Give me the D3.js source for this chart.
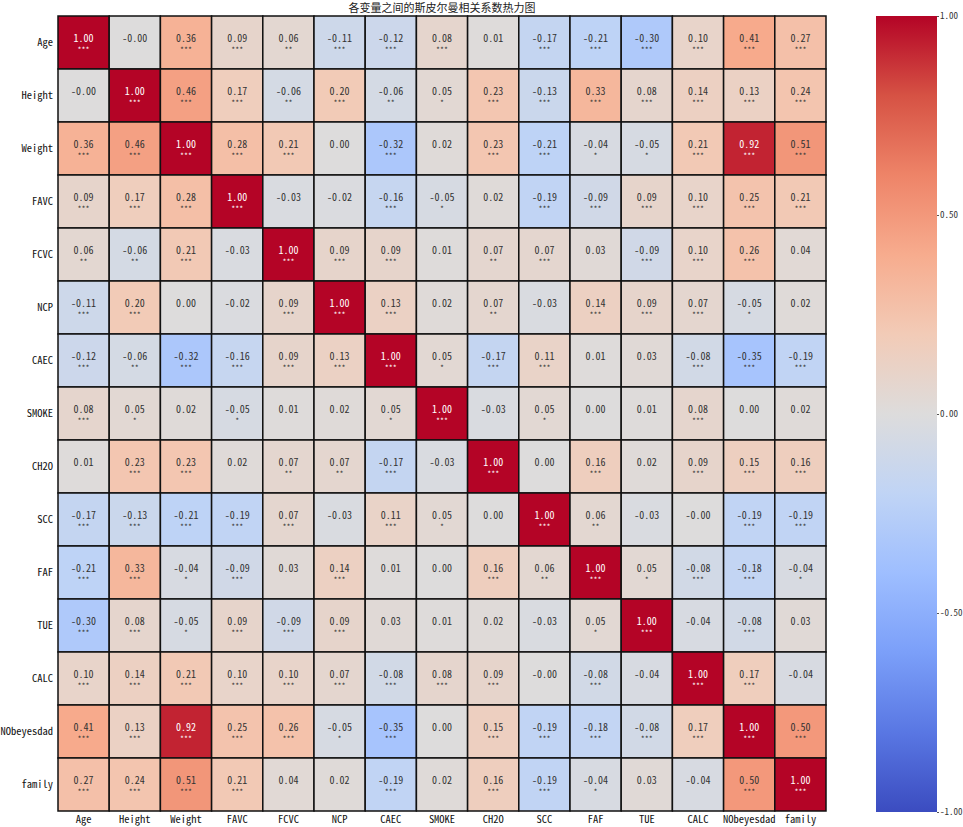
<!DOCTYPE html>
<html>
<head>
<meta charset="utf-8">
<script src="https://cdn.jsdelivr.net/npm/d3@7.9.0/dist/d3.min.js"></script>
<style>
  body { margin: 0; background: #fff; }
  svg { display: block; }
  text { font-family: "Noto Sans Mono CJK SC", "Noto Sans CJK SC", sans-serif; }
</style>
</head>
<body>
<svg id="chart" width="963" height="827"></svg>
<script>
const title = "各变量之间的斯皮尔曼相关系数热力图";

const variables = ["Age", "Height", "Weight", "FAVC", "FCVC", "NCP", "CAEC", "SMOKE",
  "CH2O", "SCC", "FAF", "TUE", "CALC", "NObeyesdad", "family"];

const corr = [
  [ 1.00, -0.00,  0.36,  0.09,  0.06, -0.11, -0.12,  0.08,  0.01, -0.17, -0.21, -0.30,  0.10,  0.41,  0.27],
  [-0.00,  1.00,  0.46,  0.17, -0.06,  0.20, -0.06,  0.05,  0.23, -0.13,  0.33,  0.08,  0.14,  0.13,  0.24],
  [ 0.36,  0.46,  1.00,  0.28,  0.21,  0.00, -0.32,  0.02,  0.23, -0.21, -0.04, -0.05,  0.21,  0.92,  0.51],
  [ 0.09,  0.17,  0.28,  1.00, -0.03, -0.02, -0.16, -0.05,  0.02, -0.19, -0.09,  0.09,  0.10,  0.25,  0.21],
  [ 0.06, -0.06,  0.21, -0.03,  1.00,  0.09,  0.09,  0.01,  0.07,  0.07,  0.03, -0.09,  0.10,  0.26,  0.04],
  [-0.11,  0.20,  0.00, -0.02,  0.09,  1.00,  0.13,  0.02,  0.07, -0.03,  0.14,  0.09,  0.07, -0.05,  0.02],
  [-0.12, -0.06, -0.32, -0.16,  0.09,  0.13,  1.00,  0.05, -0.17,  0.11,  0.01,  0.03, -0.08, -0.35, -0.19],
  [ 0.08,  0.05,  0.02, -0.05,  0.01,  0.02,  0.05,  1.00, -0.03,  0.05,  0.00,  0.01,  0.08,  0.00,  0.02],
  [ 0.01,  0.23,  0.23,  0.02,  0.07,  0.07, -0.17, -0.03,  1.00,  0.00,  0.16,  0.02,  0.09,  0.15,  0.16],
  [-0.17, -0.13, -0.21, -0.19,  0.07, -0.03,  0.11,  0.05,  0.00,  1.00,  0.06, -0.03, -0.00, -0.19, -0.19],
  [-0.21,  0.33, -0.04, -0.09,  0.03,  0.14,  0.01,  0.00,  0.16,  0.06,  1.00,  0.05, -0.08, -0.18, -0.04],
  [-0.30,  0.08, -0.05,  0.09, -0.09,  0.09,  0.03,  0.01,  0.02, -0.03,  0.05,  1.00, -0.04, -0.08,  0.03],
  [ 0.10,  0.14,  0.21,  0.10,  0.10,  0.07, -0.08,  0.08,  0.09, -0.00, -0.08, -0.04,  1.00,  0.17, -0.04],
  [ 0.41,  0.13,  0.92,  0.25,  0.26, -0.05, -0.35,  0.00,  0.15, -0.19, -0.18, -0.08,  0.17,  1.00,  0.50],
  [ 0.27,  0.24,  0.51,  0.21,  0.04,  0.02, -0.19,  0.02,  0.16, -0.19, -0.04,  0.03, -0.04,  0.50,  1.00]
];

// significance marks, same layout as corr
const stars = [
  ["***", "",    "***", "***", "**",  "***", "***", "***", "",    "***", "***", "***", "***", "***", "***"],
  ["",    "***", "***", "***", "**",  "***", "**",  "*",   "***", "***", "***", "***", "***", "***", "***"],
  ["***", "***", "***", "***", "***", "",    "***", "",    "***", "***", "*",   "*",   "***", "***", "***"],
  ["***", "***", "***", "***", "",    "",    "***", "*",   "",    "***", "***", "***", "***", "***", "***"],
  ["**",  "**",  "***", "",    "***", "***", "***", "",    "**",  "***", "",    "***", "***", "***", ""],
  ["***", "***", "",    "",    "***", "***", "***", "",    "**",  "",    "***", "***", "***", "*",   ""],
  ["***", "**",  "***", "***", "***", "***", "***", "*",   "***", "***", "",    "",    "***", "***", "***"],
  ["***", "*",   "",    "*",   "",    "",    "*",   "***", "",    "*",   "",    "",    "***", "",    ""],
  ["",    "***", "***", "",    "**",  "**",  "***", "",    "***", "",    "***", "",    "***", "***", "***"],
  ["***", "***", "***", "***", "***", "",    "***", "*",   "",    "***", "**",  "",    "",    "***", "***"],
  ["***", "***", "*",   "***", "",    "***", "",    "",    "***", "**",  "***", "*",   "***", "***", "*"],
  ["***", "***", "*",   "***", "***", "***", "",    "",    "",    "",    "*",   "***", "",    "***", ""],
  ["***", "***", "***", "***", "***", "***", "***", "***", "***", "",    "***", "",    "***", "***", ""],
  ["***", "***", "***", "***", "***", "*",   "***", "",    "***", "***", "***", "***", "***", "***", "***"],
  ["***", "***", "***", "***", "",    "",    "***", "",    "***", "***", "*",   "",    "",    "***", "***"]
];

const colorbarTicks = [1, 0.5, 0, -0.5, -1];

// matplotlib "coolwarm" sampled at 11 stops
const coolwarm = ["#3b4cc0", "#5977e3", "#7b9ff9", "#9ebeff", "#c0d4f5", "#dddcdc",
  "#f2cbb7", "#f7ac8e", "#ee8468", "#d65244", "#b40426"];

const svg = d3.select("#chart");
const mLeft = 58, mRight = 826, mTop = 16, mBottom = 811;
const fontStack = '"Noto Sans Mono CJK SC", "Noto Sans CJK SC", sans-serif';

const color = d3.scaleLinear()
  .domain(d3.range(11).map(i => -1 + i * 0.2))
  .range(coolwarm)
  .interpolate(d3.interpolateRgb)
  .clamp(true);

const x = d3.scaleBand().domain(variables).range([mLeft, mRight]);
const y = d3.scaleBand().domain(variables).range([mTop, mBottom]);

svg.append("text")
  .attr("x", (mLeft + mRight) / 2)
  .attr("y", 12)
  .attr("text-anchor", "middle")
  .attr("font-size", "11px")
  .attr("fill", "#222")
  .text(title);

const cells = [];
corr.forEach((row, i) => row.forEach((v, j) => cells.push({ r: variables[i], c: variables[j], v, s: stars[i][j] })));

const g = svg.append("g");

g.selectAll("rect.cell")
  .data(cells)
  .join("rect")
  .attr("class", "cell")
  .attr("x", d => x(d.c))
  .attr("y", d => y(d.r))
  .attr("width", x.bandwidth())
  .attr("height", y.bandwidth())
  .attr("fill", d => color(d.v))
  .attr("stroke", "#111")
  .attr("stroke-width", 1.5);

const textColor = d => Math.abs(d.v) > 0.7 ? "#fff" : "#333";

g.selectAll("text.val")
  .data(cells)
  .join("text")
  .attr("class", "val")
  .attr("x", d => x(d.c) + x.bandwidth() / 2)
  .attr("y", d => y(d.r) + y.bandwidth() / 2 - 0.5)
  .attr("text-anchor", "middle")
  .attr("font-size", "10px")
  .attr("fill", textColor)
  .text(d => (d.v < 0 || Object.is(d.v, -0) ? "-" : "") + Math.abs(d.v).toFixed(2));

g.selectAll("text.sig")
  .data(cells.filter(d => d.s))
  .join("text")
  .attr("class", "sig")
  .attr("x", d => x(d.c) + x.bandwidth() / 2)
  .attr("y", d => y(d.r) + y.bandwidth() / 2 + 10)
  .attr("text-anchor", "middle")
  .attr("font-size", "8px")
  .attr("fill", textColor)
  .text(d => d.s);

// axes
const yAxis = svg.append("g")
  .attr("transform", `translate(${mLeft},0)`)
  .call(d3.axisLeft(y).tickSize(0).tickPadding(5));
yAxis.select(".domain").remove();
yAxis.selectAll("text")
  .attr("font-size", "10.5px")
  .attr("fill", "#111")
  .style("font-family", fontStack);

const xAxis = svg.append("g")
  .attr("transform", `translate(0,${mBottom})`)
  .call(d3.axisBottom(x).tickSize(0).tickPadding(5));
xAxis.select(".domain").remove();
xAxis.selectAll("text")
  .attr("font-size", "10.5px")
  .attr("fill", "#111")
  .style("font-family", fontStack);

// colorbar
const cbLeft = 876, cbWidth = 61;
const cbScale = d3.scaleLinear().domain([-1, 1]).range([812, 16]);

const defs = svg.append("defs");
const grad = defs.append("linearGradient")
  .attr("id", "cbgrad")
  .attr("x1", 0).attr("y1", 1).attr("x2", 0).attr("y2", 0);
grad.selectAll("stop")
  .data(coolwarm)
  .join("stop")
  .attr("offset", (d, i) => i / (coolwarm.length - 1))
  .attr("stop-color", d => d);

svg.append("rect")
  .attr("x", cbLeft)
  .attr("y", cbScale(1))
  .attr("width", cbWidth)
  .attr("height", cbScale(-1) - cbScale(1))
  .attr("fill", "url(#cbgrad)");

const cbAxis = svg.append("g")
  .attr("transform", `translate(${cbLeft + cbWidth},0)`)
  .call(d3.axisRight(cbScale).tickValues(colorbarTicks).tickSize(2).tickPadding(1)
    .tickFormat(d => d.toFixed(2)));
cbAxis.select(".domain").remove();
cbAxis.selectAll("line").attr("stroke", "#555");
cbAxis.selectAll("text")
  .attr("font-size", "9px")
  .attr("fill", "#333")
  .style("font-family", fontStack);
</script>
</body>
</html>
